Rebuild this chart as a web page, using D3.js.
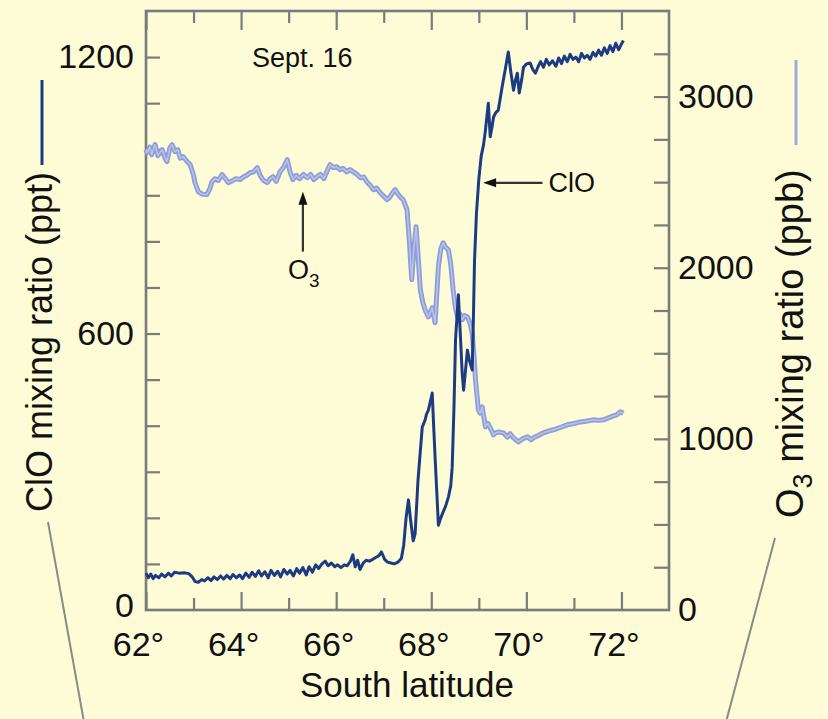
<!DOCTYPE html>
<html>
<head>
<meta charset="utf-8">
<script src="https://cdn.jsdelivr.net/npm/d3@7"></script>
<style>
  html, body { margin: 0; padding: 0; background: #fdfcd7; }
  svg { display: block; font-family: "Liberation Sans", Arial, Helvetica, sans-serif; }
</style>
</head>
<body>
<svg id="chart" width="828" height="719"></svg>
<script>
// ClO (ppt) against south latitude, Sept. 16
const cloSeries = [[62.0,80],[62.05,70],[62.1,78],[62.15,68],[62.2,75],[62.27,70],[62.33,78],[62.4,72],[62.47,80],[62.53,74],[62.6,82],[62.7,80],[62.8,81],[62.9,79],[62.97,72],[63.03,62],[63.1,60],[63.17,66],[63.23,63],[63.3,70],[63.37,64],[63.43,72],[63.5,66],[63.57,74],[63.63,67],[63.7,75],[63.77,68],[63.83,77],[63.9,70],[63.97,76],[64.03,68],[64.1,80],[64.17,71],[64.23,82],[64.3,73],[64.37,85],[64.43,74],[64.5,83],[64.57,70],[64.63,86],[64.7,75],[64.77,84],[64.83,72],[64.9,88],[64.97,78],[65.03,86],[65.1,74],[65.17,90],[65.23,80],[65.3,92],[65.37,76],[65.43,94],[65.5,82],[65.57,98],[65.63,90],[65.7,100],[65.77,106],[65.83,96],[65.9,102],[65.97,94],[66.03,98],[66.1,92],[66.17,98],[66.23,96],[66.3,106],[66.35,120],[66.4,94],[66.45,108],[66.5,88],[66.57,102],[66.63,108],[66.7,106],[66.77,110],[66.83,114],[66.9,118],[66.95,126],[67.02,110],[67.08,104],[67.15,102],[67.22,100],[67.3,104],[67.37,112],[67.42,140],[67.47,200],[67.52,239],[67.56,200],[67.62,150],[67.66,165],[67.72,280],[67.81,397],[67.87,412],[67.9,425],[67.94,434],[68.02,471],[68.05,400],[68.08,332],[68.15,184],[68.2,200],[68.25,213],[68.3,225],[68.36,245],[68.41,270],[68.44,310],[68.48,450],[68.51,586],[68.57,684],[68.62,580],[68.65,514],[68.68,477],[68.72,520],[68.76,564],[68.8,543],[68.86,521],[68.88,600],[68.91,760],[68.95,860],[69.0,935],[69.05,985],[69.1,1010],[69.14,1042],[69.2,1100],[69.24,1027],[69.28,1050],[69.31,1070],[69.36,1080],[69.41,1085],[69.45,1110],[69.49,1135],[69.55,1170],[69.62,1211],[69.67,1170],[69.73,1128],[69.77,1150],[69.81,1165],[69.85,1122],[69.9,1150],[69.94,1178],[70.0,1185],[70.08,1187],[70.14,1172],[70.19,1165],[70.25,1180],[70.3,1190],[70.36,1178],[70.42,1195],[70.48,1183],[70.55,1192],[70.62,1180],[70.68,1198],[70.74,1186],[70.8,1202],[70.86,1190],[70.92,1206],[70.98,1195],[71.04,1200],[71.1,1190],[71.16,1208],[71.22,1198],[71.28,1204],[71.34,1195],[71.4,1210],[71.46,1202],[71.52,1215],[71.58,1204],[71.64,1220],[71.7,1208],[71.76,1225],[71.82,1212],[71.88,1230],[71.94,1216],[72.0,1228],[72.04,1236]];

// O3 (ppb) against south latitude
const o3Series = [[62.0,2690],[62.02,2673],[62.08,2705],[62.12,2660],[62.19,2719],[62.25,2655],[62.34,2690],[62.4,2640],[62.44,2620],[62.5,2700],[62.55,2719],[62.61,2678],[62.67,2690],[62.72,2640],[62.78,2649],[62.85,2625],[62.93,2602],[63.0,2540],[63.03,2497],[63.1,2444],[63.18,2430],[63.28,2427],[63.34,2460],[63.39,2503],[63.45,2520],[63.52,2510],[63.6,2544],[63.67,2520],[63.73,2497],[63.8,2505],[63.88,2520],[63.98,2515],[64.05,2530],[64.12,2540],[64.19,2555],[64.26,2560],[64.34,2585],[64.4,2540],[64.47,2510],[64.55,2497],[64.61,2520],[64.67,2532],[64.74,2505],[64.82,2561],[64.9,2590],[64.97,2632],[65.03,2560],[65.09,2515],[65.16,2540],[65.23,2520],[65.31,2545],[65.39,2526],[65.46,2545],[65.53,2515],[65.6,2532],[65.67,2545],[65.74,2520],[65.8,2560],[65.87,2602],[65.94,2585],[66.01,2590],[66.08,2573],[66.15,2580],[66.22,2560],[66.29,2573],[66.36,2560],[66.44,2545],[66.51,2526],[66.58,2530],[66.65,2500],[66.72,2480],[66.78,2456],[66.85,2465],[66.92,2440],[66.99,2420],[67.07,2398],[67.12,2410],[67.18,2435],[67.24,2456],[67.3,2430],[67.36,2410],[67.41,2398],[67.49,2339],[67.54,2150],[67.59,1930],[67.63,2100],[67.68,2240],[67.72,2080],[67.77,1871],[67.82,1800],[67.87,1754],[67.94,1713],[68.02,1766],[68.08,1678],[68.15,2006],[68.2,2110],[68.25,2146],[68.3,2120],[68.36,2105],[68.41,2020],[68.46,1871],[68.5,1780],[68.55,1713],[68.6,1730],[68.65,1696],[68.7,1720],[68.76,1713],[68.81,1680],[68.86,1620],[68.9,1480],[68.93,1345],[68.99,1170],[69.03,1150],[69.07,1187],[69.14,1070],[69.19,1090],[69.24,1064],[69.31,1023],[69.35,1035],[69.42,1040],[69.52,1035],[69.6,1010],[69.66,1030],[69.73,1006],[69.83,982],[69.92,1000],[70.02,1012],[70.1,995],[70.15,1006],[70.25,1020],[70.36,1035],[70.46,1045],[70.57,1053],[70.7,1065],[70.86,1082],[71.0,1090],[71.14,1099],[71.28,1104],[71.41,1111],[71.52,1108],[71.62,1111],[71.72,1122],[71.83,1134],[71.9,1140],[71.98,1158],[72.04,1150]];

const latMajor = [62, 64, 66, 68, 70, 72];
const latMinor = [63, 65, 67, 69, 71];
const cloTicks = d3.range(100, 1300, 100);
const cloLabels = [0, 600, 1200];
const o3Ticks = d3.range(250, 3500, 250);
const o3Labels = [0, 1000, 2000, 3000];

const svg = d3.select("#chart");
const bg = "#fdfcd7";
const frameColor = "#7b7b7b";
const cloColor = "#1d3b82";
const o3Color = "#8e9dd6";
const ink = "#111";

svg.append("rect").attr("width", 828).attr("height", 719).attr("fill", bg);

var plotLeft = 146, plotRight = 669, plotTop = 11, plotBottom = 610;

var x = d3.scaleLinear().domain([62, 73]).range([plotLeft, plotRight]);
var yClo = d3.scaleLinear().domain([0, 1300]).range([plotBottom, plotTop]);
var yO3 = d3.scaleLinear().domain([0, 3500]).range([plotBottom, plotTop]);

function styleAxis(g) {
    g.select(".domain").remove();
    g.selectAll(".tick line").attr("stroke", frameColor).attr("stroke-width", 2.2);
    g.selectAll(".tick text").attr("fill", ink).attr("font-size", 34)
        .attr("font-family", "Liberation Sans, Arial, Helvetica, sans-serif");
}

// bottom axis: labelled even degrees, short odd ticks
svg.append("g").attr("transform", "translate(0," + plotBottom + ")")
    .call(d3.axisBottom(x).tickValues(latMajor).tickSize(-18).tickPadding(22).tickFormat(d => d + "°"))
    .call(styleAxis)
    .selectAll(".tick text").attr("dx", -8);
svg.append("g").attr("transform", "translate(0," + plotBottom + ")")
    .call(d3.axisBottom(x).tickValues(latMinor).tickSize(-12).tickFormat(""))
    .call(styleAxis);

// top axis ticks only
svg.append("g").attr("transform", "translate(0," + plotTop + ")")
    .call(d3.axisTop(x).tickValues(latMajor).tickSize(-19).tickFormat(""))
    .call(styleAxis);
svg.append("g").attr("transform", "translate(0," + plotTop + ")")
    .call(d3.axisTop(x).tickValues(latMinor).tickSize(-12).tickFormat(""))
    .call(styleAxis);

// left axis (ClO)
svg.append("g").attr("transform", "translate(" + plotLeft + ",0)")
    .call(d3.axisLeft(yClo).tickValues(cloTicks).tickSize(-14).tickFormat(""))
    .call(styleAxis);
svg.append("g").attr("transform", "translate(" + plotLeft + ",0)")
    .call(d3.axisLeft(yClo).tickValues(cloLabels).tickSize(0).tickPadding(12).tickFormat(d3.format("d")))
    .call(styleAxis)
    .selectAll(".tick text").attr("dy", d => d === 0 ? "0.2em" : "0.32em");

// right axis (O3)
svg.append("g").attr("transform", "translate(" + plotRight + ",0)")
    .call(d3.axisRight(yO3).tickValues(o3Ticks).tickSize(-15).tickFormat(""))
    .call(styleAxis);
svg.append("g").attr("transform", "translate(" + plotRight + ",0)")
    .call(d3.axisRight(yO3).tickValues(o3Labels).tickSize(0).tickPadding(9).tickFormat(d3.format("d")))
    .call(styleAxis);

// frame
svg.append("rect")
    .attr("x", plotLeft).attr("y", plotTop)
    .attr("width", plotRight - plotLeft).attr("height", plotBottom - plotTop)
    .attr("fill", "none").attr("stroke", frameColor).attr("stroke-width", 2.6);

// O3 line, light blue band with pale core
var o3Line = d3.line().x(d => x(d[0])).y(d => yO3(d[1]));
svg.append("path").datum(o3Series)
    .attr("d", o3Line).attr("fill", "none")
    .attr("stroke", o3Color).attr("stroke-width", 5)
    .attr("stroke-linejoin", "round");
svg.append("path").datum(o3Series)
    .attr("d", o3Line).attr("fill", "none")
    .attr("stroke", "#b9c4ec").attr("stroke-width", 1.5)
    .attr("stroke-linejoin", "round");

// ClO line
var cloLine = d3.line().x(d => x(d[0])).y(d => yClo(d[1]));
svg.append("path").datum(cloSeries)
    .attr("d", cloLine).attr("fill", "none")
    .attr("stroke", cloColor).attr("stroke-width", 3)
    .attr("stroke-linejoin", "round");

// annotations
var arrowColor = "#333";
svg.append("text").attr("x", 252).attr("y", 67)
    .attr("font-size", 27).attr("fill", ink).text("Sept. 16");

// O3 arrow (points up to the ozone curve)
var ax = x(65.3), tipY = yO3(2444), tailY = yO3(2094);
svg.append("line").attr("x1", ax).attr("x2", ax).attr("y1", tailY).attr("y2", tipY + 10)
    .attr("stroke", arrowColor).attr("stroke-width", 2.2);
svg.append("path")
    .attr("d", d3.line()([[ax, tipY], [ax - 4.5, tipY + 13], [ax + 4.5, tipY + 13]]) + "Z")
    .attr("fill", "#111");
var o3Text = svg.append("text").attr("x", ax - 15).attr("y", tailY + 27)
    .attr("font-size", 27).attr("fill", ink);
o3Text.append("tspan").text("O");
o3Text.append("tspan").attr("font-size", 19).attr("dy", 8).text("3");

// ClO arrow (points left to the ClO curve)
var arrowY = yClo(927), tipX = x(69.09), tailX = x(70.34);
svg.append("line").attr("x1", tailX).attr("x2", tipX + 10).attr("y1", arrowY).attr("y2", arrowY)
    .attr("stroke", arrowColor).attr("stroke-width", 2.2);
svg.append("path")
    .attr("d", d3.line()([[tipX, arrowY], [tipX + 13, arrowY - 4.5], [tipX + 13, arrowY + 4.5]]) + "Z")
    .attr("fill", "#111");
svg.append("text").attr("x", tailX + 6).attr("y", arrowY + 9)
    .attr("font-size", 27).attr("fill", ink).text("ClO");

// axis titles
svg.append("text").attr("x", 407).attr("y", 697)
    .attr("text-anchor", "middle").attr("font-size", 35).attr("fill", ink)
    .text("South latitude");

svg.append("text")
    .attr("transform", "translate(52,512) rotate(-90)")
    .attr("font-size", 36).attr("fill", ink)
    .text("ClO mixing ratio (ppt)");
svg.append("line").attr("x1", 42).attr("x2", 42).attr("y1", 80).attr("y2", 165)
    .attr("stroke", cloColor).attr("stroke-width", 3);

var rt = svg.append("text")
    .attr("transform", "translate(803,518) rotate(-90)")
    .attr("font-size", 38).attr("fill", ink);
rt.append("tspan").text("O");
rt.append("tspan").attr("font-size", 27).attr("dy", 9).text("3");
rt.append("tspan").attr("dy", -9).text(" mixing ratio (ppb)");
svg.append("line").attr("x1", 796).attr("x2", 796).attr("y1", 60).attr("y2", 145)
    .attr("stroke", "#9dabde").attr("stroke-width", 3);

// leader lines
svg.append("line").attr("x1", 48).attr("y1", 522).attr("x2", 84).attr("y2", 722)
    .attr("stroke", "#8a8a8a").attr("stroke-width", 2);
svg.append("line").attr("x1", 775).attr("y1", 538).attr("x2", 726).attr("y2", 722)
    .attr("stroke", "#8a8a8a").attr("stroke-width", 2);
</script>
</body>
</html>
